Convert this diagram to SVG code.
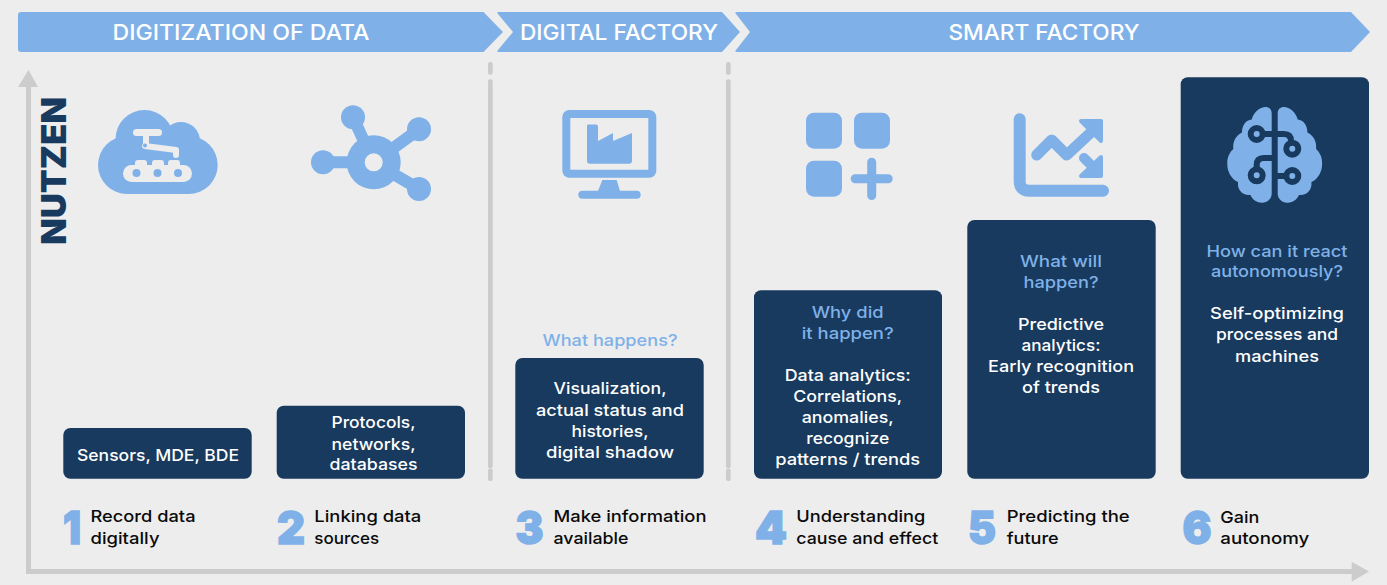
<svg xmlns="http://www.w3.org/2000/svg" width="1387" height="585" viewBox="0 0 1387 585">
<style>
text{font-family:Inter,"Noto Sans","Liberation Sans",sans-serif;font-weight:500;text-anchor:middle}
.hd{font-size:22px;fill:#fff}
.bx{fill:#183a5e}
.w{font-size:16.5px;fill:#fff}
.q{font-size:16.5px;fill:#7fb1e8}
.k{font-size:16.5px;fill:#0a0a0a;text-anchor:start}
.n{font-size:45px;font-weight:900;fill:#7fb1e8;stroke:#7fb1e8;stroke-width:1.500px}
.b{fill:#7fb1e8}
.g{fill:#cccccc}
.bg{fill:#ededed}
.ls{fill:none;stroke:#7fb1e8;stroke-linecap:round;stroke-linejoin:round}
.dl{fill:none;stroke:#183a5e;stroke-width:6;stroke-linecap:round}
</style>
<rect width="1387" height="585" fill="#ededed"/>
<g id="connectors">
<rect class="g" x="26" y="85" width="5" height="489"/>
<polygon class="g" points="28.500,70 38,87 18,87"/>
<rect class="g" x="26" y="569" width="1327" height="5" rx="1"/>
<polygon class="g" points="1369,571.500 1351.700,561.700 1351.700,581.700"/>
<rect class="g" x="488" y="62" width="4.700" height="12.700" rx="2"/>
<rect class="g" x="488" y="79.300" width="4.700" height="389" rx="2"/>
<rect class="g" x="488" y="468.500" width="4.700" height="12.500" rx="2"/>
<rect class="g" x="726" y="62" width="4.700" height="12.700" rx="2"/>
<rect class="g" x="726" y="79.300" width="4.700" height="389" rx="2"/>
<rect class="g" x="726" y="468.500" width="4.700" height="12.500" rx="2"/>
</g>
<g id="phase-digitization">
<path class="b" d="M21 12H483.500L503 32 483.500 52H21Q18 52 18 49V15Q18 12 21 12Z"/>
<text class="hd" x="241" y="40" textLength="257" lengthAdjust="spacingAndGlyphs">DIGITIZATION OF DATA</text>
</g>
<g id="phase-digital-factory">
<path class="b" d="M499 12H722L740 32 722 52H499Q496 52 498 50L513 32 498 14Q496 12 499 12Z"/>
<text class="hd" x="619" y="40" textLength="198" lengthAdjust="spacingAndGlyphs">DIGITAL FACTORY</text>
</g>
<g id="phase-smart-factory">
<path class="b" d="M737 12H1351L1370 32 1351 52H737Q734 52 736 50L750 32 736 14Q734 12 737 12Z"/>
<text class="hd" x="1044" y="40" textLength="191" lengthAdjust="spacingAndGlyphs">SMART FACTORY</text>
</g>
<g id="axis-label">
<text transform="translate(66,171) rotate(-90)" style="font-size:34px;font-weight:900;fill:#183a5e" textLength="148" lengthAdjust="spacingAndGlyphs">NUTZEN</text>
</g>
<g id="step-1">
<g class="b">
<circle cx="127" cy="165" r="29"/><circle cx="144.500" cy="139" r="29"/><circle cx="181" cy="141" r="19"/><circle cx="188.700" cy="165" r="29"/>
<rect x="127" y="130" width="62" height="64"/>
</g>
<g class="bg">
<rect x="123" y="165" width="69" height="17" rx="8.500"/>
<rect x="135" y="160" width="12" height="8" rx="3"/><rect x="152" y="160" width="12" height="8" rx="3"/><rect x="168" y="160" width="12" height="8" rx="3"/>
<rect x="133" y="129" width="29" height="7" rx="3.500"/><rect x="143" y="136" width="6" height="8"/>
</g>
<path d="M145 146L176 150V155" fill="none" stroke="#ededed" stroke-width="6" stroke-linecap="round" stroke-linejoin="round"/>
<g class="b"><circle cx="136.500" cy="173" r="4"/><circle cx="157.500" cy="173" r="4"/><circle cx="178" cy="173" r="4"/><circle cx="145" cy="145.500" r="2"/></g>
<rect class="bx" x="63.300" y="428" width="188.400" height="50.700" rx="7"/>
<text class="w" x="158" y="461" textLength="162" lengthAdjust="spacingAndGlyphs">Sensors, MDE, BDE</text>
<text class="n" x="72" y="544" textLength="18" lengthAdjust="spacingAndGlyphs">1</text>
<text class="k" x="90.500" y="522" textLength="105" lengthAdjust="spacingAndGlyphs">Record data</text>
<text class="k" x="90.500" y="544" textLength="69" lengthAdjust="spacingAndGlyphs">digitally</text>
</g>
<g id="step-2">
<g stroke="#7fb1e8" stroke-width="12"><line x1="373.700" y1="162.300" x2="353" y2="117.300"/><line x1="373.700" y1="162.300" x2="419" y2="129.300"/><line x1="373.700" y1="162.300" x2="323" y2="162.300"/><line x1="373.700" y1="162.300" x2="419" y2="189"/></g>
<g class="b"><circle cx="373.700" cy="162.300" r="27"/><circle cx="353" cy="117.300" r="12"/><circle cx="419" cy="129.300" r="12"/><circle cx="323" cy="162.300" r="12"/><circle cx="419" cy="189" r="12"/></g>
<circle class="bg" cx="373.700" cy="162.300" r="9"/>
<rect class="bx" x="276.700" y="405.700" width="188.300" height="73" rx="7"/>
<text class="w" x="373.500" y="428.300" textLength="84" lengthAdjust="spacingAndGlyphs">Protocols,</text>
<text class="w" x="373.500" y="449.700" textLength="84" lengthAdjust="spacingAndGlyphs">networks,</text>
<text class="w" x="373.500" y="470" textLength="88" lengthAdjust="spacingAndGlyphs">databases</text>
<text class="n" x="291" y="544" textLength="28" lengthAdjust="spacingAndGlyphs">2</text>
<text class="k" x="314.300" y="522" textLength="107" lengthAdjust="spacingAndGlyphs">Linking data</text>
<text class="k" x="314.300" y="544" textLength="65" lengthAdjust="spacingAndGlyphs">sources</text>
</g>
<g id="step-3">
<rect x="566.300" y="114" width="86" height="59.700" rx="3" fill="none" stroke="#7fb1e8" stroke-width="8"/>
<path class="b" d="M588 124.500H596Q598 124.500 598 126.500V141L613 133V141L632 133V161Q632 163.700 629 163.700H590Q587 163.700 587 161V126Q587 124.500 588 124.500Z"/>
<path class="b" d="M602.300 180H616.700L620 191H598Z"/>
<rect class="b" x="578.300" y="190.700" width="62.400" height="8" rx="4"/>
<text class="q" x="610" y="346" textLength="135" lengthAdjust="spacingAndGlyphs">What happens?</text>
<rect class="bx" x="515.300" y="358" width="188.400" height="120.700" rx="7"/>
<text class="w" x="610" y="394" textLength="113" lengthAdjust="spacingAndGlyphs">Visualization,</text>
<text class="w" x="610" y="416" textLength="148" lengthAdjust="spacingAndGlyphs">actual status and</text>
<text class="w" x="610" y="437" textLength="77" lengthAdjust="spacingAndGlyphs">histories,</text>
<text class="w" x="610" y="458" textLength="128" lengthAdjust="spacingAndGlyphs">digital shadow</text>
<text class="n" x="529.500" y="544" textLength="28" lengthAdjust="spacingAndGlyphs">3</text>
<text class="k" x="553.500" y="522" textLength="153" lengthAdjust="spacingAndGlyphs">Make information</text>
<text class="k" x="553.500" y="544" textLength="75" lengthAdjust="spacingAndGlyphs">available</text>
</g>
<g id="step-4">
<rect class="b" x="806" y="112.700" width="36" height="36" rx="8"/>
<rect class="b" x="854" y="112.700" width="36" height="36" rx="8"/>
<rect class="b" x="806" y="160.700" width="36" height="36" rx="8"/>
<path class="ls" stroke-width="9" d="M855.200 178.700H888.200M871.700 162.200V195.500"/>
<rect class="bx" x="754" y="290.300" width="188" height="188.400" rx="7"/>
<text class="q" x="847.700" y="318" textLength="72" lengthAdjust="spacingAndGlyphs">Why did</text>
<text class="q" x="847.700" y="339" textLength="92" lengthAdjust="spacingAndGlyphs">it happen?</text>
<text class="w" x="847.700" y="381" textLength="126" lengthAdjust="spacingAndGlyphs">Data analytics:</text>
<text class="w" x="847.700" y="402" textLength="109" lengthAdjust="spacingAndGlyphs">Correlations,</text>
<text class="w" x="847.700" y="423" textLength="92" lengthAdjust="spacingAndGlyphs">anomalies,</text>
<text class="w" x="847.700" y="444" textLength="83" lengthAdjust="spacingAndGlyphs">recognize</text>
<text class="w" x="847.700" y="465" textLength="145" lengthAdjust="spacingAndGlyphs">patterns / trends</text>
<text class="n" x="771" y="544" textLength="32" lengthAdjust="spacingAndGlyphs">4</text>
<text class="k" x="796.300" y="522" textLength="129" lengthAdjust="spacingAndGlyphs">Understanding</text>
<text class="k" x="796.300" y="544" textLength="142" lengthAdjust="spacingAndGlyphs">cause and effect</text>
</g>
<g id="step-5">
<path class="ls" stroke-width="12" fill="none" d="M1019.700 119.300V181Q1019.700 190.700 1029.400 190.700H1103"/>
<path class="ls" stroke-width="11" d="M1036.700 155L1051.700 140 1066.700 155 1091.700 131.700"/>
<path class="b" stroke="#7fb1e8" stroke-width="4" stroke-linejoin="round" d="M1081 121H1101V141Z"/>
<path class="ls" stroke-width="10" d="M1084 158L1096 170"/>
<path class="b" stroke="#7fb1e8" stroke-width="4" stroke-linejoin="round" d="M1101 157V176H1081Z"/>
<rect class="bx" x="967.300" y="220" width="188.400" height="258.700" rx="7"/>
<text class="q" x="1061" y="267" textLength="82" lengthAdjust="spacingAndGlyphs">What will</text>
<text class="q" x="1061" y="288" textLength="75" lengthAdjust="spacingAndGlyphs">happen?</text>
<text class="w" x="1061" y="330" textLength="86" lengthAdjust="spacingAndGlyphs">Predictive</text>
<text class="w" x="1061" y="351" textLength="79" lengthAdjust="spacingAndGlyphs">analytics:</text>
<text class="w" x="1061" y="372" textLength="146" lengthAdjust="spacingAndGlyphs">Early recognition</text>
<text class="w" x="1061" y="393" textLength="78" lengthAdjust="spacingAndGlyphs">of trends</text>
<text class="n" x="982" y="544" textLength="28" lengthAdjust="spacingAndGlyphs">5</text>
<text class="k" x="1006.700" y="522" textLength="123" lengthAdjust="spacingAndGlyphs">Predicting the</text>
<text class="k" x="1006.700" y="544" textLength="52" lengthAdjust="spacingAndGlyphs">future</text>
</g>
<g id="step-6">
<rect class="bx" x="1180.700" y="77.300" width="188.300" height="401.400" rx="7"/>
<g class="b">
<path d="M1271.700 193.500C1271.700 199 1267 203 1261.700 202.700 1256 202.500 1252 199 1250.500 195 1243 196 1237 190 1238 182 1231 179 1227 171 1227.300 163.500 1227 157 1230 152 1233.300 149 1232.500 142 1236 135 1242 132.500 1242 125 1246 120 1251.700 119.500 1254 111 1262 105.500 1268 107.500 1271 108.500 1271.700 111 1271.700 114Z"/>
<path d="M1277.700 193.500C1277.700 199 1282.400 203 1287.700 202.700 1293.400 202.500 1297.400 199 1298.900 195 1306.400 196 1312.400 190 1311.400 182 1318.400 179 1322.400 171 1322.100 163.500 1322.400 157 1319.400 152 1316.100 149 1316.900 142 1313.400 135 1307.400 132.500 1307.400 125 1303.400 120 1297.700 119.500 1295.400 111 1287.400 105.500 1281.400 107.500 1278.400 108.500 1277.700 111 1277.700 114Z"/>
</g>
<g class="dl">
<circle cx="1256.700" cy="134" r="6"/><circle cx="1292.300" cy="148.700" r="6"/><circle cx="1256.700" cy="175.300" r="6"/><circle cx="1292.300" cy="176" r="6"/>
<path d="M1263 134H1284Q1291 134 1291 141V142M1256.700 169V165Q1256.700 158 1263.700 158H1271.700M1278 176H1286"/>
</g>
<text class="q" x="1277" y="256.700" textLength="141" lengthAdjust="spacingAndGlyphs">How can it react</text>
<text class="q" x="1277" y="276.700" textLength="132" lengthAdjust="spacingAndGlyphs">autonomously?</text>
<text class="w" x="1277" y="319.300" textLength="134" lengthAdjust="spacingAndGlyphs">Self-optimizing</text>
<text class="w" x="1277" y="340" textLength="122" lengthAdjust="spacingAndGlyphs">processes and</text>
<text class="w" x="1277" y="361.700" textLength="84" lengthAdjust="spacingAndGlyphs">machines</text>
<text class="n" x="1197" y="544" textLength="29" lengthAdjust="spacingAndGlyphs">6</text>
<text class="k" x="1220.300" y="523" textLength="39" lengthAdjust="spacingAndGlyphs">Gain</text>
<text class="k" x="1220.300" y="544" textLength="89" lengthAdjust="spacingAndGlyphs">autonomy</text>
</g>
</svg>
